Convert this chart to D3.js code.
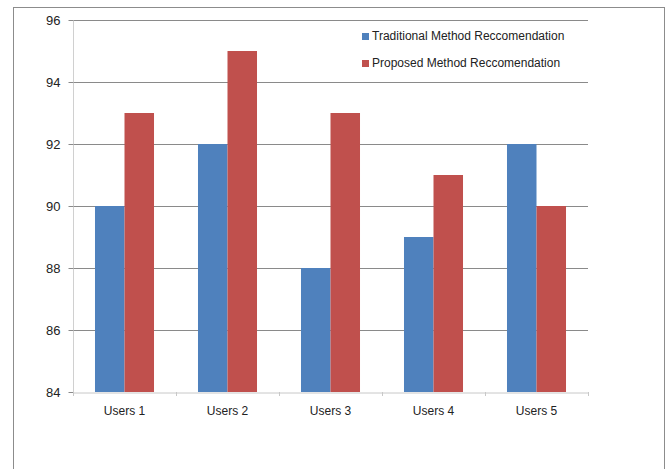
<!DOCTYPE html>
<html>
<head>
<meta charset="utf-8">
<script src="https://cdn.jsdelivr.net/npm/d3@7"></script>
<style>
  html, body { margin: 0; padding: 0; background: #fff; }
  svg { display: block; font-family: "Liberation Sans", Arial, sans-serif; }
</style>
</head>
<body>
<svg id="chart" width="670" height="469"></svg>
<script>
// Recommendation accuracy per user group
const categories = ["Users 1", "Users 2", "Users 3", "Users 4", "Users 5"];
const seriesNames = ["Traditional Method Reccomendation", "Proposed Method Reccomendation"];
const traditional = [90, 92, 88, 89, 92];
const proposed = [93, 95, 93, 91, 90];
const yTicks = [84, 86, 88, 90, 92, 94, 96];
const colors = ["#4F81BD", "#C0504D"];

const svg = d3.select("#chart");
const margin = { left: 73, right: 82, top: 20, bottom: 77 };
const W = 670, H = 469;
const plotW = W - margin.left - margin.right;
const plotH = H - margin.top - margin.bottom;

// outer chart frame
svg.append("rect")
  .attr("x", 13.5).attr("y", 7.5)
  .attr("width", 651).attr("height", 470)
  .attr("fill", "#fff").attr("stroke", "#8c8c8c").attr("stroke-width", 1);

const g = svg.append("g").attr("transform", `translate(${margin.left},${margin.top})`);

const x0 = d3.scaleBand().domain(categories).range([0, plotW]).paddingInner(0).paddingOuter(0);
const groupW = x0.bandwidth() * 0.573;
const x1 = d3.scaleBand().domain([0, 1]).range([(x0.bandwidth() - groupW) / 2, (x0.bandwidth() + groupW) / 2]);
const y = d3.scaleLinear().domain([84, 96]).range([plotH, 0]);

// horizontal gridlines
g.append("g").selectAll("line").data(yTicks.filter(t => t !== 84)).join("line")
  .attr("x1", 0).attr("x2", plotW)
  .attr("y1", d => Math.round(y(d)) + 0.5).attr("y2", d => Math.round(y(d)) + 0.5)
  .attr("stroke", "#8a8a8a").attr("stroke-width", 1);

// bars
const rows = categories.map((c, i) => ({ c, v: [traditional[i], proposed[i]] }));
g.append("g").selectAll("g").data(rows).join("g")
  .attr("transform", d => `translate(${x0(d.c)},0)`)
  .selectAll("rect").data(d => d.v.map((v, k) => ({ v, k }))).join("rect")
  .attr("x", d => x1(d.k))
  .attr("width", x1.bandwidth())
  .attr("y", d => y(d.v))
  .attr("height", d => plotH - y(d.v))
  .attr("fill", d => colors[d.k]);

// y axis
const yAxis = g.append("g").attr("transform", "translate(0.5,0)")
  .call(d3.axisLeft(y).tickValues(yTicks).tickSize(5).tickPadding(8).tickFormat(d3.format("d")));
yAxis.select(".domain").attr("stroke", "#d0d0d0").attr("d", `M0,0V${plotH}`);
yAxis.selectAll(".tick line").attr("stroke", "#8a8a8a");
yAxis.selectAll("text").attr("font-size", 13).attr("fill", "#222")
  .attr("font-family", "'Liberation Sans', Arial, sans-serif");

// x axis
const xAxis = g.append("g").attr("transform", `translate(0,${plotH + 0.5})`)
  .call(d3.axisBottom(x0).tickSize(0).tickPadding(14));
xAxis.select(".domain").attr("stroke", "#c8c8c8");
xAxis.selectAll("text").attr("font-size", 12).attr("fill", "#222")
  .attr("font-family", "'Liberation Sans', Arial, sans-serif");
// category separators
g.append("g").selectAll("line").data(d3.range(categories.length + 1)).join("line")
  .attr("x1", i => Math.round(i * x0.step()) + 0.5).attr("x2", i => Math.round(i * x0.step()) + 0.5)
  .attr("y1", plotH).attr("y2", plotH + 4)
  .attr("stroke", "#c8c8c8");

// legend
const legend = svg.append("g").attr("transform", "translate(362,36)");
seriesNames.forEach((name, k) => {
  const row = legend.append("g").attr("transform", `translate(0,${k * 27})`);
  row.append("rect").attr("x", 0).attr("y", -3).attr("width", 7).attr("height", 7).attr("fill", colors[k]);
  row.append("text").attr("x", 10).attr("y", 0).attr("dy", "0.35em")
    .attr("font-size", 12).attr("fill", "#222").text(name);
});
</script>
</body>
</html>
